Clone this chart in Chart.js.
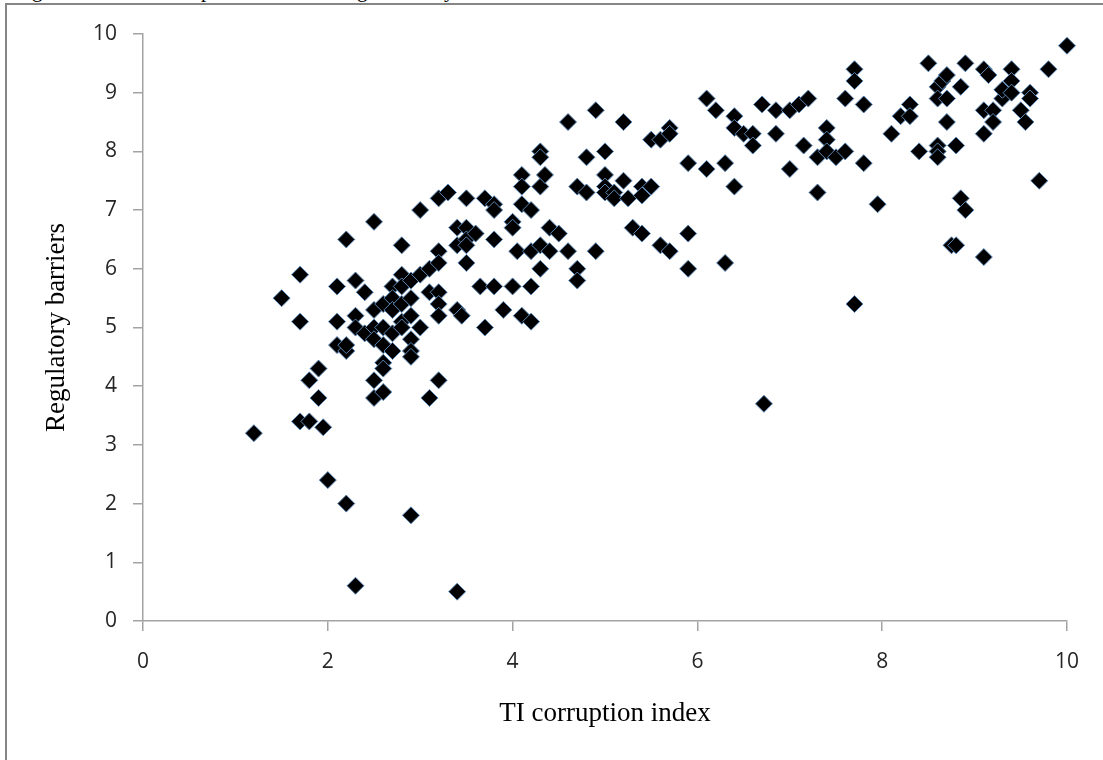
<!DOCTYPE html>
<html>
<head>
<meta charset="utf-8">
<script src="https://cdn.jsdelivr.net/npm/chart.js@4"></script>
<style>
  html, body { margin: 0; background: #fff; }
  #wrap { position: relative; width: 1103px; height: 760px; overflow: hidden; }
  #frame { position: absolute; left: 5px; top: 3px; width: 1098px; height: 757px; box-sizing: border-box; border-left: 2px solid #868686; border-top: 2px solid #868686; }
  #cap span { position: absolute; top: -20px; font: 21px/21px "Liberation Serif"; color: #000; }
  canvas { position: absolute; left: 0; top: 0; }
</style>
</head>
<body>
<div id="wrap">
  <!-- only the descenders of the cropped caption line are visible in the picture -->
  <div id="cap"><span style="left:32px">g</span><span style="left:201px">p</span><span style="left:357px">g</span><span style="left:444px">y</span></div>
  <div id="frame"></div>
  <canvas id="myChart" width="1103" height="760"></canvas>
</div>
<script>
const xTicks = [0, 2, 4, 6, 8, 10]
const yTicks = [0, 1, 2, 3, 4, 5, 6, 7, 8, 9, 10]

const xValues = [
  1.2, 1.5, 1.7, 1.7, 1.7, 1.8, 1.8, 1.9, 1.9, 1.95, 2, 2.2, 2.9, 2.3, 3.4,
  2.2, 2.1, 2.1, 2.1, 2.2, 2.2, 2.3, 2.4, 2.3, 2.3, 2.4, 2.5, 2.5, 2.5, 2.5, 2.5, 2.5,
  2.6, 2.6, 2.6, 2.6, 2.6, 2.6, 2.7, 2.7, 2.7, 2.7, 2.7, 2.8, 2.8, 2.8, 2.8, 2.8, 2.8,
  2.9, 2.9, 2.9, 2.9, 2.9, 2.9, 3, 3, 3, 3.1, 3.1, 3.1, 3.2, 3.2, 3.2, 3.2, 3.2, 3.2, 3.2,
  3.3, 3.4, 3.4, 3.4, 3.45, 3.5, 3.5, 3.5, 3.5, 3.5, 3.6, 3.65, 3.7, 3.7, 3.8, 3.8, 3.8, 3.8, 3.9,
  4, 4, 4, 4.05, 4.1, 4.1, 4.1, 4.1, 4.2, 4.2, 4.2, 4.2, 4.3, 4.3, 4.3, 4.35, 4.3, 4.3,
  4.4, 4.4, 4.5, 4.6, 4.6, 4.7, 4.7, 4.7, 4.8, 4.8, 4.9, 4.9, 5, 5, 5, 5, 5.1, 5.1,
  5.2, 5.2, 5.25, 5.3, 5.4, 5.4, 5.4, 5.5, 5.5, 5.6, 5.6, 5.7, 5.7, 5.7, 5.9, 5.9, 5.9,
  6.1, 6.1, 6.2, 6.3, 6.3, 6.4, 6.4, 6.4, 6.5, 6.6, 6.6, 6.7, 6.72, 6.85, 6.85, 7, 7,
  7.1, 7.15, 7.2, 7.3, 7.3, 7.4, 7.4, 7.4, 7.5, 7.6, 7.6, 7.7, 7.7, 7.7, 7.8, 7.8, 7.95,
  8.1, 8.2, 8.3, 8.3, 8.4, 8.5, 8.6, 8.6, 8.6, 8.6, 8.6, 8.65, 8.7, 8.7, 8.7, 8.75, 8.8, 8.8,
  8.85, 8.9, 8.85, 8.9, 9.1, 9.1, 9.1, 9.1, 9.15, 9.2, 9.2, 9.3, 9.3, 9.4, 9.4, 9.4,
  9.5, 9.55, 9.6, 9.6, 9.7, 9.8, 10
]
const yValues = [
  3.2, 5.5, 5.9, 5.1, 3.4, 3.4, 4.1, 4.3, 3.8, 3.3, 2.4, 2, 1.8, 0.6, 0.5,
  6.5, 5.7, 5.1, 4.7, 4.6, 4.7, 5.8, 5.6, 5.2, 5, 4.9, 6.8, 5.3, 5, 4.8, 4.1, 3.8,
  3.9, 4.4, 4.3, 4.7, 5, 5.4, 5.7, 5.5, 5.3, 4.9, 4.6, 6.4, 5.9, 5.7, 5.4, 5.1, 5,
  5.8, 5.5, 5.2, 4.8, 4.6, 4.5, 7, 5.9, 5, 6, 5.6, 3.8, 7.2, 6.3, 6.1, 5.6, 5.4, 5.2, 4.1,
  7.3, 6.7, 6.4, 5.3, 5.2, 7.2, 6.7, 6.5, 6.4, 6.1, 6.6, 5.7, 7.2, 5, 7.1, 7, 6.5, 5.7, 5.3,
  6.8, 6.7, 5.7, 6.3, 7.6, 7.4, 7.1, 5.2, 7, 6.3, 5.7, 5.1, 8, 7.9, 7.4, 7.6, 6.4, 6,
  6.7, 6.3, 6.6, 8.5, 6.3, 7.4, 6, 5.8, 7.9, 7.3, 8.7, 6.3, 8, 7.6, 7.4, 7.3, 7.3, 7.2,
  8.5, 7.5, 7.2, 6.7, 7.4, 7.25, 6.6, 8.2, 7.4, 8.2, 6.4, 8.4, 8.3, 6.3, 7.8, 6.6, 6,
  8.9, 7.7, 8.7, 7.8, 6.1, 8.6, 8.4, 7.4, 8.3, 8.3, 8.1, 8.8, 3.7, 8.7, 8.3, 8.7, 7.7,
  8.8, 8.1, 8.9, 7.9, 7.3, 8.4, 8.2, 8, 7.9, 8.9, 8, 9.4, 9.2, 5.4, 8.8, 7.8, 7.1,
  8.3, 8.6, 8.8, 8.6, 8, 9.5, 9.1, 8.9, 8.1, 8, 7.9, 9.2, 9.3, 8.9, 8.5, 6.4, 8.1, 6.4,
  9.1, 9.5, 7.2, 7, 9.4, 8.7, 8.3, 6.2, 9.3, 8.7, 8.5, 8.9, 9.05, 9.4, 9.2, 9,
  8.7, 8.5, 9, 8.9, 7.5, 9.4, 9.8
]

const points = xValues.map((x, i) => ({ x: x, y: yValues[i] }))

const tickFont = { family: '"Open Sans"', size: 21 }
const titleFont = { family: '"Liberation Serif"', size: 27 }
const axisColor = '#a3a3a3'

const config = {
  type: 'scatter',
  data: {
    datasets: [{
      label: 'Regulatory barriers',
      data: points,
      pointStyle: 'rectRot',
      pointRadius: 8.5,
      backgroundColor: '#000',
      borderColor: '#5b87b5',
      borderWidth: 1,
      clip: false
    }]
  },
  options: {
    responsive: false,
    animation: false,
    plugins: { legend: { display: false }, tooltip: { enabled: false } },
    layout: { padding: { left: 41, right: 36, top: 34, bottom: 30 } },
    scales: {
      x: {
        min: 0, max: 10,
        afterBuildTicks: axis => { axis.ticks = xTicks.map(v => ({ value: v })) },
        afterFit: axis => { axis.height = 109 },
        grid: { drawOnChartArea: false, color: axisColor, lineWidth: 1.5, tickLength: 10 },
        border: { color: axisColor, width: 1.5 },
        ticks: { font: tickFont, color: '#262626', padding: 18, maxRotation: 0 },
        title: { display: true, text: 'TI corruption index', font: titleFont, color: '#000', padding: 0 }
      },
      y: {
        min: 0, max: 10,
        afterBuildTicks: axis => { axis.ticks = yTicks.map(v => ({ value: v })) },
        afterFit: axis => { axis.width = 102 },
        grid: { drawOnChartArea: false, color: axisColor, lineWidth: 1.5, tickLength: 10 },
        border: { color: axisColor, width: 1.5 },
        ticks: { font: tickFont, color: '#262626', padding: 16 },
        title: { display: true, text: 'Regulatory barriers', font: titleFont, color: '#000', padding: 0 }
      }
    }
  }
}

const myChart = new Chart(document.getElementById('myChart'), config)
</script>
</body>
</html>
